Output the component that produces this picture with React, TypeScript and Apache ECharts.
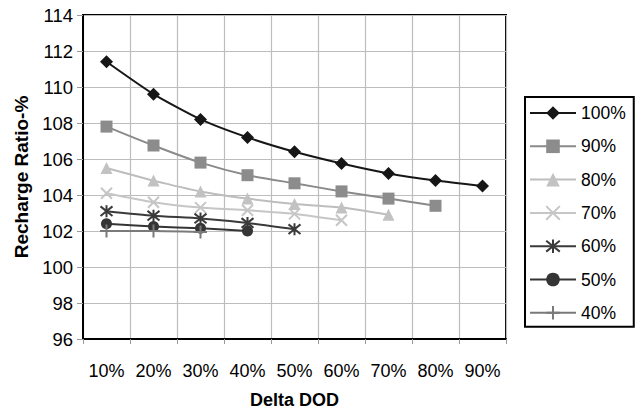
import React, { useEffect, useRef } from "react";
import * as echarts from "echarts";

const categories = ["10%", "20%", "30%", "40%", "50%", "60%", "70%", "80%", "90%"];
const seriesNames = ["100%", "90%", "80%", "70%", "60%", "50%", "40%"];
const s100 = [111.4, 109.6, 108.2, 107.2, 106.4, 105.75, 105.2, 104.8, 104.5];
const s90 = [107.8, 106.75, 105.8, 105.1, 104.65, 104.2, 103.8, 103.4];
const s80 = [105.5, 104.8, 104.2, 103.8, 103.5, 103.3, 102.9];
const s70 = [104.1, 103.6, 103.3, 103.15, 102.95, 102.6];
const s60 = [103.1, 102.85, 102.7, 102.45, 102.1];
const s50 = [102.4, 102.25, 102.15, 102.0];
const s40 = [102.0, 102.0, 101.95];

const FONT = "'Liberation Sans', Arial, Helvetica, sans-serif";

export default function App() {
  const ref = useRef<HTMLDivElement>(null);
  useEffect(() => {
    document.body.style.margin = "0";
    if (!ref.current) return;
    const chart = echarts.init(ref.current, null, { renderer: "svg" });
    const mk = (
      name: string,
      data: number[],
      color: string,
      lineColor: string,
      symbol: string,
      size: number,
      border: number
    ) => ({
      name,
      type: "line",
      data,
      smooth: 0.2,
      symbol,
      symbolSize: size,
      lineStyle: { color: lineColor, width: 2 },
      itemStyle: { color, borderColor: color, borderWidth: border },
    });
    const xPath = "path://M0,0L10,10M10,0L0,10";
    const starPath = "path://M1,1L9,9M9,1L1,9M5,0L5,10";
    const plusPath = "path://M5,0L5,10M0,5L10,5";
    chart.setOption({
      animation: false,
      backgroundColor: "#fff",
      textStyle: { fontFamily: FONT },
      grid: {
        left: 83,
        top: 15,
        width: 423,
        height: 325,
        show: true,
        borderColor: "#000",
        borderWidth: 2,
        containLabel: false,
      },
      legend: {
        orient: "vertical",
        left: 525,
        top: 97,
        padding: [7, 8, 5, 4],
        itemWidth: 46,
        itemHeight: 17,
        itemGap: 15.3,
        borderColor: "#000",
        borderWidth: 2,
        data: seriesNames,
        textStyle: { fontSize: 17.5, color: "#000", fontFamily: FONT },
      },
      xAxis: {
        type: "category",
        data: categories,
        boundaryGap: true,
        name: "Delta DOD",
        nameLocation: "middle",
        nameGap: 52,
        nameTextStyle: { fontSize: 18, fontWeight: "bold", color: "#000", fontFamily: FONT },
        axisLine: { lineStyle: { color: "#000", width: 2 } },
        axisTick: { show: true, length: 5, lineStyle: { color: "#999" }, alignWithLabel: false },
        axisLabel: { fontSize: 18, color: "#000", margin: 23, fontFamily: FONT },
        splitLine: { show: true, lineStyle: { color: "#bdbdbd", width: 1.2 } },
      },
      yAxis: {
        type: "value",
        min: 96,
        max: 114,
        interval: 2,
        name: "Recharge Ratio-%",
        nameLocation: "middle",
        nameGap: 52,
        nameTextStyle: { fontSize: 19, fontWeight: "bold", color: "#000", fontFamily: FONT },
        axisLine: { show: true, lineStyle: { color: "#000", width: 2 } },
        axisTick: { show: true, length: 6, lineStyle: { color: "#999" } },
        axisLabel: { fontSize: 18.5, color: "#000", margin: 10, fontFamily: FONT },
        splitLine: { show: true, lineStyle: { color: "#bdbdbd", width: 1.2 } },
      },
      series: [
        mk(seriesNames[0], s100, "#161616", "#161616", "diamond", 13, 0),
        mk(seriesNames[1], s90, "#8c8c8c", "#8a8a8a", "rect", 12, 0),
        mk(seriesNames[2], s80, "#c2c2c2", "#bdbdbd", "triangle", 12, 0),
        mk(seriesNames[3], s70, "#c6c6c6", "#c6c6c6", xPath, 11, 2),
        mk(seriesNames[4], s60, "#3a3a3a", "#3a3a3a", starPath, 12, 2),
        mk(seriesNames[5], s50, "#353535", "#353535", "circle", 11, 0),
        mk(seriesNames[6], s40, "#7a7a7a", "#7a7a7a", plusPath, 13, 2),
      ],
    });
    return () => chart.dispose();
  }, []);
  return <div ref={ref} style={{ width: 641, height: 414 }} />;
}
